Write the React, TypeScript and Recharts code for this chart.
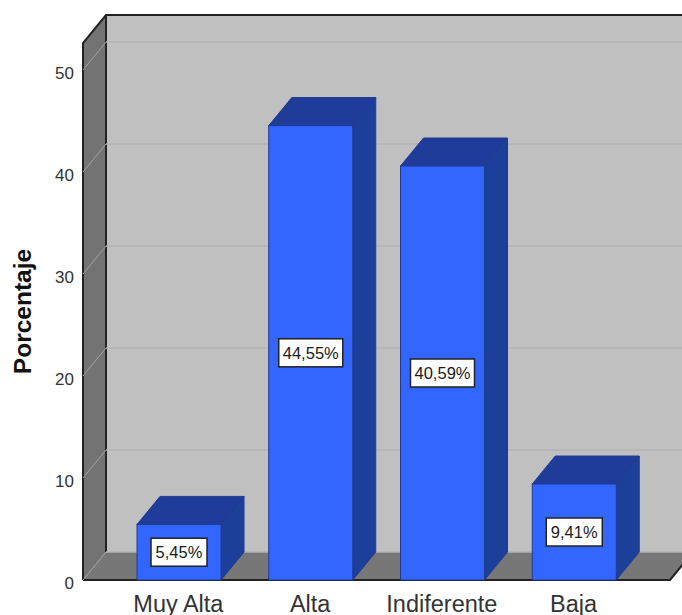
import { BarChart, Bar, XAxis, YAxis, ReferenceArea, ReferenceLine, LabelList } from "recharts";

const categories = ["Muy Alta", "Alta", "Indiferente", "Baja"];
const percentages = [5.45, 44.55, 40.59, 9.41];
const yTicks = [0, 10, 20, 30, 40, 50];

const rows = categories.map((name, i) => ({ name, value: percentages[i] }));

const FONT = "'Liberation Sans', Arial, sans-serif";
const CHART_W = 720;
const CHART_H = 615;
const PLOT_LEFT = 83;
const PLOT_RIGHT = 670;
const Y_MAX = 52.65;
// oblique offset of the box depth
const DX = 23;
const DY = 28;

// side wall, back wall and floor of the 3D box
function Walls({ y, height }: any) {
  const bottom = y + height;
  const l = PLOT_LEFT;
  const r = PLOT_RIGHT;
  return (
    <g>
      <polygon points={`${l + DX},${y - DY} ${r + DX},${y - DY} ${r + DX},${bottom - DY} ${l + DX},${bottom - DY}`} fill="#c0c0c0" />
      <polygon points={`${l},${y} ${l + DX},${y - DY} ${l + DX},${bottom - DY} ${l},${bottom}`} fill="#737373" />
      <polygon points={`${l},${bottom} ${l + DX},${bottom - DY} ${r + DX},${bottom - DY} ${r},${bottom}`} fill="#777777" />
      <g stroke="#222222" strokeWidth={2} fill="none">
        <polyline points={`${l},${bottom} ${l},${y} ${l + DX},${y - DY} ${r + DX},${y - DY}`} />
        <line x1={l + DX} y1={y - DY} x2={l + DX} y2={bottom - DY} />
        <polyline points={`${l},${bottom} ${r},${bottom} ${r + DX},${bottom - DY}`} />
      </g>
    </g>
  );
}

// gridline folded across the side wall and back wall
function WallGridLine({ y1 }: any) {
  const l = PLOT_LEFT;
  return (
    <g fill="none">
      <line x1={l} y1={y1} x2={l + DX} y2={y1 - DY} stroke="#a3a3a3" strokeWidth={1} />
      <line x1={l + DX} y1={y1 - DY} x2={PLOT_RIGHT + DX} y2={y1 - DY} stroke="#b3b3b3" strokeWidth={1.5} />
    </g>
  );
}

function Bar3D({ x, y, width, height }: any) {
  const r = x + width;
  const b = y + height;
  return (
    <g stroke="#203a92" strokeWidth={1}>
      <polygon points={`${x},${y} ${x + DX},${y - DY} ${r + DX},${y - DY} ${r},${y}`} fill="#1f3c9a" />
      <polygon points={`${r},${y} ${r + DX},${y - DY} ${r + DX},${b - DY} ${r},${b}`} fill="#1c3f99" />
      <rect x={x} y={y} width={width} height={height} fill="#3366ff" />
    </g>
  );
}

function ValueLabel({ x, y, width, height, value }: any) {
  const text = `${Number(value).toFixed(2).replace(".", ",")}%`;
  const boxW = value >= 10 ? 64 : 56;
  const cx = x + width / 2;
  const cy = y + height / 2;
  return (
    <g>
      <rect x={cx - boxW / 2} y={cy - 14} width={boxW} height={28} fill="#ffffff" stroke="#222222" strokeWidth={1.5} />
      <text x={cx} y={cy + 6} textAnchor="middle" fontFamily={FONT} fontSize={16.5} fill="#1a1a1a">
        {text}
      </text>
    </g>
  );
}

function YTick({ x, y, payload }: any) {
  return (
    <text x={x + 6} y={y + 9} textAnchor="end" fontFamily={FONT} fontSize={17} fill="#333333">
      {payload.value}
    </text>
  );
}

function XTick({ x, y, payload }: any) {
  return (
    <text x={x - 0.5} y={y + 24} textAnchor="middle" fontFamily={FONT} fontSize={23.5} fill="#333333">
      {payload.value}
    </text>
  );
}

export default function App() {
  return (
    <div style={{ position: "absolute", left: 0, top: 0, width: 682, height: 615, overflow: "hidden", background: "#ffffff" }}>
      <BarChart
        width={CHART_W}
        height={CHART_H}
        data={rows}
        margin={{ top: 43, right: CHART_W - PLOT_RIGHT, bottom: 0, left: 0 }}
        barSize={84}
      >
        <XAxis
          dataKey="name"
          height={35}
          padding={{ left: 30, right: 30 }}
          axisLine={false}
          tickLine={false}
          tick={<XTick />}
          interval={0}
        />
        <YAxis
          width={PLOT_LEFT}
          domain={[0, Y_MAX]}
          ticks={yTicks}
          axisLine={false}
          tickLine={false}
          tickMargin={9}
          tick={<YTick />}
          label={{
            value: "Porcentaje",
            angle: -90,
            position: "center",
            dx: -19,
            style: { fontFamily: FONT, fontSize: 24.5, fontWeight: "bold", fill: "#111111", textAnchor: "middle" },
          }}
        />
        <ReferenceArea y1={0} y2={Y_MAX} shape={<Walls />} ifOverflow="visible" zIndex={-60} />
        {yTicks.map((t) => (
          <ReferenceLine key={t} y={t} shape={(p: any) => <WallGridLine y1={p.y1} />} zIndex={-50} />
        ))}
        <Bar dataKey="value" isAnimationActive={false} shape={<Bar3D />}>
          <LabelList dataKey="value" content={<ValueLabel />} />
        </Bar>
      </BarChart>
    </div>
  );
}
